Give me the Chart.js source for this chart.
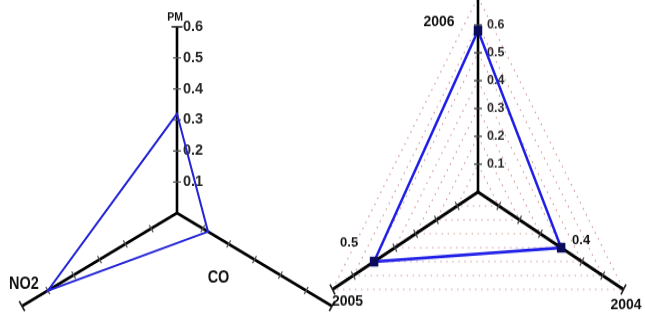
<!DOCTYPE html>
<html>
<head>
<meta charset="utf-8">
<script src="https://cdn.jsdelivr.net/npm/chart.js@4.4.1/dist/chart.umd.min.js"></script>
<style>
  html, body { margin: 0; padding: 0; background: #fff; }
  body { width: 645px; height: 313px; overflow: hidden; position: relative; }
  canvas { position: absolute; }
  #left { left: -32px; top: 4px; transform-origin: 209px 209px; transform: scaleY(1.04); }
  #right { left: 280px; top: -6px; transform-origin: 198px 198px; transform: scaleY(1.16); }
</style>
</head>
<body>
<canvas id="left" width="418" height="418"></canvas>
<canvas id="right" width="396" height="396"></canvas>
<script>
// ---- data ----
const leftCategories = ['PM', 'CO', 'NO2'];
const leftValues = [0.32, 0.12, 0.5];
const leftTickLabels = ['0.1', '0.2', '0.3', '0.4', '0.5', '0.6'];
const leftMax = 0.6;

const rightCategories = ['2006', '2004', '2005'];
const rightValues = [0.58, 0.4, 0.5];
const rightTickLabels = ['0.1', '0.2', '0.3', '0.4', '0.5', '0.6'];
const rightValueLabels = ['', '0.4', '0.5'];
const rightMax = 0.7;

const FONT = '"Liberation Sans", Arial, sans-serif';

function drawText(ctx, text, x, y, o) {
  ctx.save();
  ctx.translate(x, y);
  ctx.scale(1, (o.stretch || 1) / o.s);
  ctx.font = 'bold ' + o.size + 'px ' + FONT;
  ctx.fillStyle = o.color || '#111';
  ctx.textAlign = o.align || 'center';
  ctx.textBaseline = 'middle';
  ctx.fillText(text, 0, 0);
  ctx.restore();
}

function decor(cfg) {
  return {
    id: 'decor',
    beforeDatasetsDraw(chart) {
      const r = chart.scales.r;
      const ctx = chart.ctx;
      const n = chart.data.labels.length;
      ctx.save();
      for (let i = 0; i < n; i++) {
        r.ticks.forEach(t => {
          if (t.value <= 0) return;
          const p = r.getPointPositionForValue(i, t.value);
          const px = -Math.sin(p.angle), py = Math.cos(p.angle);
          const isMax = Math.abs(t.value - r.max) < 1e-6;
          const h = isMax ? cfg.capLen : cfg.tickLen;
          ctx.strokeStyle = isMax ? '#222' : cfg.tickColor;
          ctx.lineWidth = isMax ? 1.6 : 1.3;
          ctx.beginPath();
          ctx.moveTo(p.x - px * h, p.y - py * h);
          ctx.lineTo(p.x + px * h, p.y + py * h);
          ctx.stroke();
        });
      }
      // tick labels along the first (vertical) axis
      r.ticks.forEach((t, k) => {
        const lbl = cfg.tickLabels[k - 1];
        if (t.value <= 0 || !lbl) return;
        const p = r.getPointPositionForValue(0, t.value);
        drawText(ctx, lbl, p.x + cfg.tickGap, p.y, {s: cfg.s, size: cfg.tickSize, color: '#2a2a2a', align: 'left', stretch: cfg.tickStretch});
      });
      ctx.restore();
    },
    afterDraw(chart) {
      const r = chart.scales.r;
      const ctx = chart.ctx;
      cfg.labels.forEach(l => {
        drawText(ctx, l.text, r.xCenter + l.dx, r.yCenter + l.dy / cfg.s,
          {s: cfg.s, size: l.size, stretch: l.stretch, color: '#111'});
      });
      if (cfg.valueLabels) {
        const vals = chart.data.datasets[0].data;
        cfg.valueLabels.forEach((txt, i) => {
          if (!txt) return;
          const p = r.getPointPositionForValue(i, vals[i]);
          const off = cfg.valueOffsets[i];
          drawText(ctx, txt, p.x + off[0], p.y + off[1] / cfg.s, {s: cfg.s, size: 13, color: '#111'});
        });
      }
    }
  };
}

function makeChart(id, labels, values, max, opts, plugin) {
  return new Chart(document.getElementById(id), {
    type: 'radar',
    data: {
      labels: labels,
      datasets: [{
        data: values,
        fill: false,
        borderColor: opts.lineColor,
        borderWidth: opts.lineWidth,
        pointStyle: 'rect',
        pointRadius: opts.pointRadius,
        pointBackgroundColor: '#0b0b5c',
        pointBorderWidth: 0,
        tension: 0
      }]
    },
    options: {
      responsive: false,
      animation: false,
      devicePixelRatio: 1,
      layout: { padding: 30 },
      plugins: { legend: { display: false }, tooltip: { enabled: false } },
      scales: {
        r: {
          min: 0,
          max: max,
          ticks: { display: false, stepSize: 0.1 },
          pointLabels: { display: false },
          grid: opts.grid,
          border: { dash: opts.gridDash || [] },
          angleLines: { display: true, color: '#000', lineWidth: 2.6 }
        }
      }
    },
    plugins: [plugin]
  });
}

makeChart('left', leftCategories, leftValues, leftMax,
  { lineColor: '#2424d6', lineWidth: 2, pointRadius: 0, grid: { display: false } },
  decor({
    s: 1.04, tickLen: 4, capLen: 5.5, tickColor: '#555',
    tickLabels: leftTickLabels, tickGap: 6, tickSize: 14.5, tickStretch: 1.0,
    labels: [
      { text: leftCategories[0], dx: -2, dy: -196, size: 10.5, stretch: 1.1 },
      { text: leftCategories[1], dx: 41.5, dy: 65, size: 14.5, stretch: 1.15 },
      { text: leftCategories[2], dx: -153, dy: 71, size: 14.5, stretch: 1.15 }
    ]
  }));

makeChart('right', rightCategories, rightValues, rightMax,
  { lineColor: '#1e1ee6', lineWidth: 2.5, pointRadius: 6,
    grid: { display: true, circular: false, color: 'rgba(200,135,135,0.8)', lineWidth: 1.2, borderDash: [1.5, 4.5] },
    gridDash: [1.5, 4.5] },
  decor({
    s: 1.16, tickLen: 4, capLen: 5, tickColor: '#444',
    tickLabels: rightTickLabels, tickGap: 9, tickSize: 12.5, tickStretch: 1.05,
    labels: [
      { text: rightCategories[0], dx: -39, dy: -170, size: 14 },
      { text: rightCategories[1], dx: 148, dy: 113.5, size: 14 },
      { text: rightCategories[2], dx: -130.5, dy: 109.5, size: 14 }
    ],
    valueLabels: rightValueLabels,
    valueOffsets: [[0, 0], [20, -6.5], [-25, -18.5]]
  }));
</script>
</body>
</html>
